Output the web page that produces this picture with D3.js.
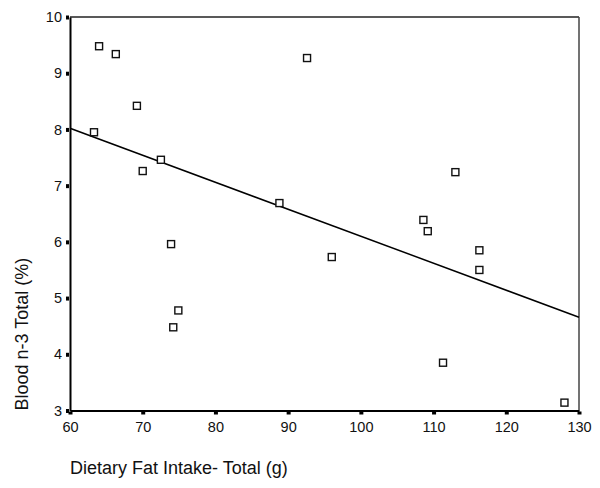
<!DOCTYPE html>
<html><head><meta charset="utf-8">
<script src="https://cdn.jsdelivr.net/npm/d3@7"></script>
<style>body{margin:0;background:#fff}svg{display:block}text{font-family:"Liberation Sans",Arial,sans-serif;fill:#111}</style>
</head><body><svg id="c" width="600" height="488"></svg>
<script>
const fatIntake = [63.3, 64.0, 66.3, 69.2, 70.0, 72.5, 73.9, 74.9, 74.2, 88.8, 92.6, 96.0, 108.6, 109.2, 113.0, 111.3, 116.3, 116.3, 128.0];
const bloodN3   = [7.95, 9.48, 9.34, 8.42, 7.26, 7.46, 5.96, 4.78, 4.48, 6.69, 9.27, 5.73, 6.39, 6.19, 7.24, 3.85, 5.85, 5.50, 3.14];
const fitX = [60, 130];
const fitY = [8.02, 4.66];
const xTicks = [60, 70, 80, 90, 100, 110, 120, 130];
const yTicks = [3, 4, 5, 6, 7, 8, 9, 10];
const xTitle = "Dietary Fat Intake- Total (g)";
const yTitle = "Blood n-3 Total (%)";

const svg = d3.select("#c");
const L = 70, R = 579, T = 17, B = 410.5;
const x = d3.scaleLinear().domain([60, 130]).range([L, R]);
const y = d3.scaleLinear().domain([3, 10]).range([B, T]);

// frame top/right
svg.append("line").attr("x1", L).attr("x2", R).attr("y1", T).attr("y2", T).attr("stroke", "#222").attr("stroke-width", 1.5);
svg.append("line").attr("x1", R).attr("x2", R).attr("y1", T).attr("y2", B).attr("stroke", "#444").attr("stroke-width", 1.5);

// axes
const fmt = d3.format("d");
const xAxis = d3.axisBottom(x).tickValues(xTicks).tickFormat(fmt).tickSize(3).tickSizeOuter(0).tickPadding(8);
const yAxis = d3.axisLeft(y).tickValues(yTicks).tickFormat(fmt).tickSize(3).tickSizeOuter(0).tickPadding(5);
const gx = svg.append("g").attr("transform", `translate(0,${B})`).call(xAxis);
const gy = svg.append("g").attr("transform", `translate(${L},0)`).call(yAxis);
[gx, gy].forEach(g => {
  g.select(".domain").attr("stroke", "#000").attr("stroke-width", 2);
  g.selectAll(".tick line").attr("stroke", "#000").attr("stroke-width", 4);
  g.selectAll(".tick text").attr("font-size", 14.5).attr("fill", "#111");
});
gx.selectAll(".tick line").attr("y1", 1).attr("y2", 4);
gy.selectAll(".tick line").attr("x1", -1).attr("x2", -4);

// fit line
svg.append("line")
  .attr("x1", x(fitX[0])).attr("y1", y(fitY[0]))
  .attr("x2", x(fitX[1])).attr("y2", y(fitY[1]))
  .attr("stroke", "#000").attr("stroke-width", 1.5);

// points
const s = 7;
svg.append("g").selectAll("rect").data(fatIntake.map((v, i) => [v, bloodN3[i]])).join("rect")
  .attr("x", d => x(d[0]) - s / 2).attr("y", d => y(d[1]) - s / 2)
  .attr("width", s).attr("height", s)
  .attr("fill", "#fff").attr("stroke", "#111").attr("stroke-width", 1.4);

// titles
svg.append("text").attr("x", L).attr("y", 474).attr("font-size", 18).text(xTitle);
svg.append("text").attr("transform", `translate(28,${B}) rotate(-90)`).attr("font-size", 18).text(yTitle);
</script></body></html>
